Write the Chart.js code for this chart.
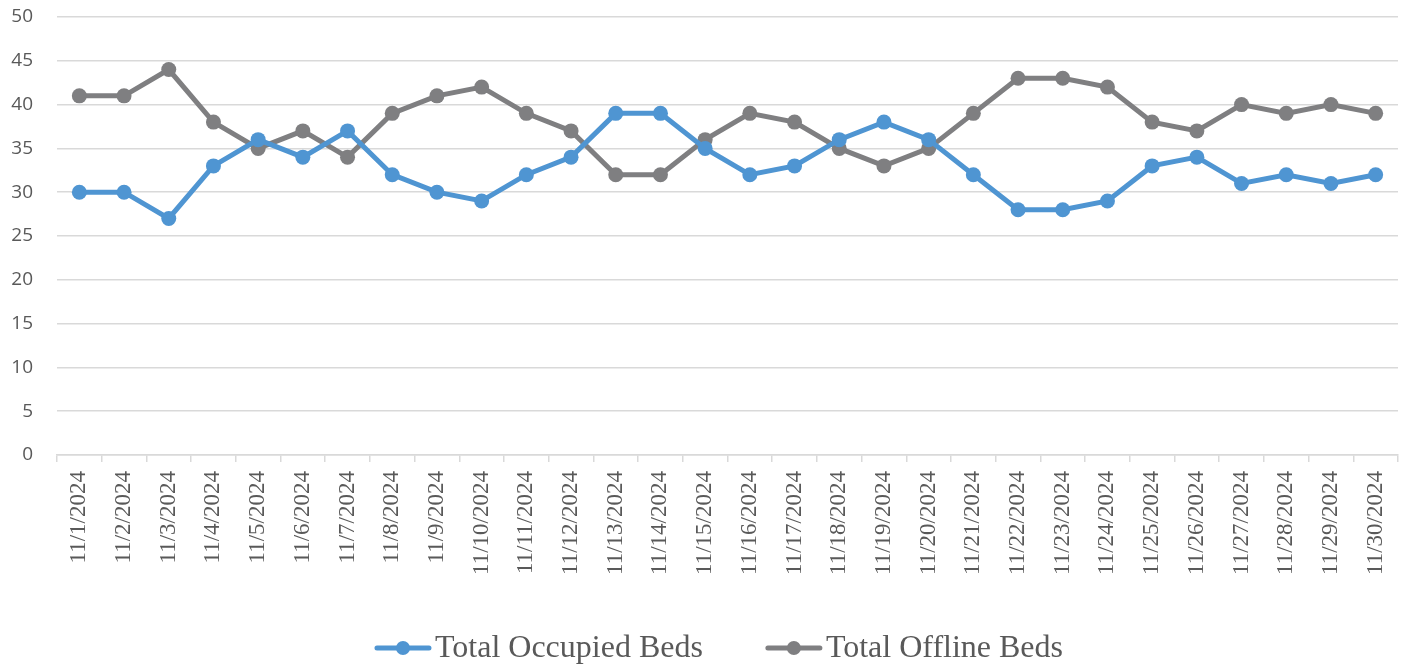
<!DOCTYPE html>
<html lang="en">
<head>
  <meta charset="UTF-8" />
  <title>Beds chart</title>
  <script src="https://cdn.jsdelivr.net/npm/chart.js@4.4.0/dist/chart.umd.min.js"></script>
  <style>
    html, body { margin: 0; padding: 0; background: #fff; }
    #wrap { width: 1408px; height: 668px; position: relative; }
  </style>
</head>
<body>
<div id="wrap"><canvas id="chart"></canvas></div>

<script>
const days = [
  '11/1/2024','11/2/2024','11/3/2024','11/4/2024','11/5/2024','11/6/2024','11/7/2024','11/8/2024',
  '11/9/2024','11/10/2024','11/11/2024','11/12/2024','11/13/2024','11/14/2024','11/15/2024','11/16/2024',
  '11/17/2024','11/18/2024','11/19/2024','11/20/2024','11/21/2024','11/22/2024','11/23/2024','11/24/2024',
  '11/25/2024','11/26/2024','11/27/2024','11/28/2024','11/29/2024','11/30/2024'
];
const occupiedBeds = [30,30,27,33,36,34,37,32,30,29,32,34,39,39,35,32,33,36,38,36,32,28,28,29,33,34,31,32,31,32];
const offlineBeds  = [41,41,44,38,35,37,34,39,41,42,39,37,32,32,36,39,38,35,33,35,39,43,43,42,38,37,40,39,40,39];
const yMin = 0, yMax = 50, yStep = 5;

const blue = '#4f95d2';
const grey = '#7f7f81';
const serif = '"Liberation Serif", "Times New Roman", serif';

// excel-style legend: line + dot, then the series name
const bottomLegend = {
  id: 'bottomLegend',
  afterDraw(chart) {
    const ctx = chart.ctx;
    const y = 648, lineW = 56, gapText = 4, gapItem = 63;
    ctx.save();
    ctx.font = '32px ' + serif;
    ctx.textBaseline = 'middle';
    const items = chart.data.datasets.map(ds => ({ ds, w: ctx.measureText(ds.label).width }));
    const total = items.reduce((s, it) => s + lineW + gapText + it.w, 0) + gapItem * (items.length - 1);
    let x = 719 - total / 2;
    items.forEach(({ ds, w }) => {
      ctx.strokeStyle = ds.borderColor;
      ctx.fillStyle = ds.borderColor;
      ctx.lineWidth = 5;
      ctx.lineCap = 'round';
      ctx.beginPath(); ctx.moveTo(x + 2, y); ctx.lineTo(x + lineW - 2, y); ctx.stroke();
      ctx.beginPath(); ctx.arc(x + lineW / 2, y, 7, 0, Math.PI * 2); ctx.fill();
      ctx.fillStyle = '#595959';
      ctx.fillText(ds.label, x + lineW + gapText, y + 1);
      x += lineW + gapText + w + gapItem;
    });
    ctx.restore();
  }
};

new Chart(document.getElementById('chart').getContext('2d'), {
  type: 'line',
  data: {
    labels: days,
    datasets: [
      { label: 'Total Occupied Beds', data: occupiedBeds, borderColor: blue, backgroundColor: blue,
        borderWidth: 5, pointRadius: 7.5, pointHoverRadius: 7.5, pointBorderWidth: 0, tension: 0 },
      { label: 'Total Offline Beds', data: offlineBeds, borderColor: grey, backgroundColor: grey,
        borderWidth: 5, pointRadius: 7.5, pointHoverRadius: 7.5, pointBorderWidth: 0, tension: 0 }
    ]
  },
  plugins: [bottomLegend],
  options: {
    responsive: true,
    maintainAspectRatio: false,
    animation: false,
    layout: { padding: { top: 17, right: 10, left: 0, bottom: 0 } },
    plugins: {
      tooltip: { enabled: false },
      legend: { display: false }
    },
    scales: {
      x: {
        offset: true,
        grid: { display: true, drawOnChartArea: false, drawTicks: true, tickLength: 7, color: '#d9d9d9', lineWidth: 1.5, offset: true },
        border: { display: true, color: '#d9d9d9', width: 1.5 },
        ticks: {
          color: '#595959',
          font: { family: serif, size: 23 },
          minRotation: 90, maxRotation: 90, autoSkip: false, padding: 9
        },
        afterFit: scale => { scale.height = 213; scale.paddingLeft = 0; scale.paddingRight = 0; }
      },
      y: {
        min: yMin, max: yMax,
        ticks: {
          stepSize: yStep,
          color: '#595959',
          font: { family: '"Open Sans", "Liberation Sans", sans-serif', size: 19 },
          padding: 24
        },
        grid: { color: '#d9d9d9', lineWidth: 1.5, drawTicks: false },
        border: { display: false },
        afterFit: scale => { scale.width = 57; scale.paddingTop = 0; scale.paddingBottom = 0; }
      }
    }
  }
});
</script>
</body>
</html>
